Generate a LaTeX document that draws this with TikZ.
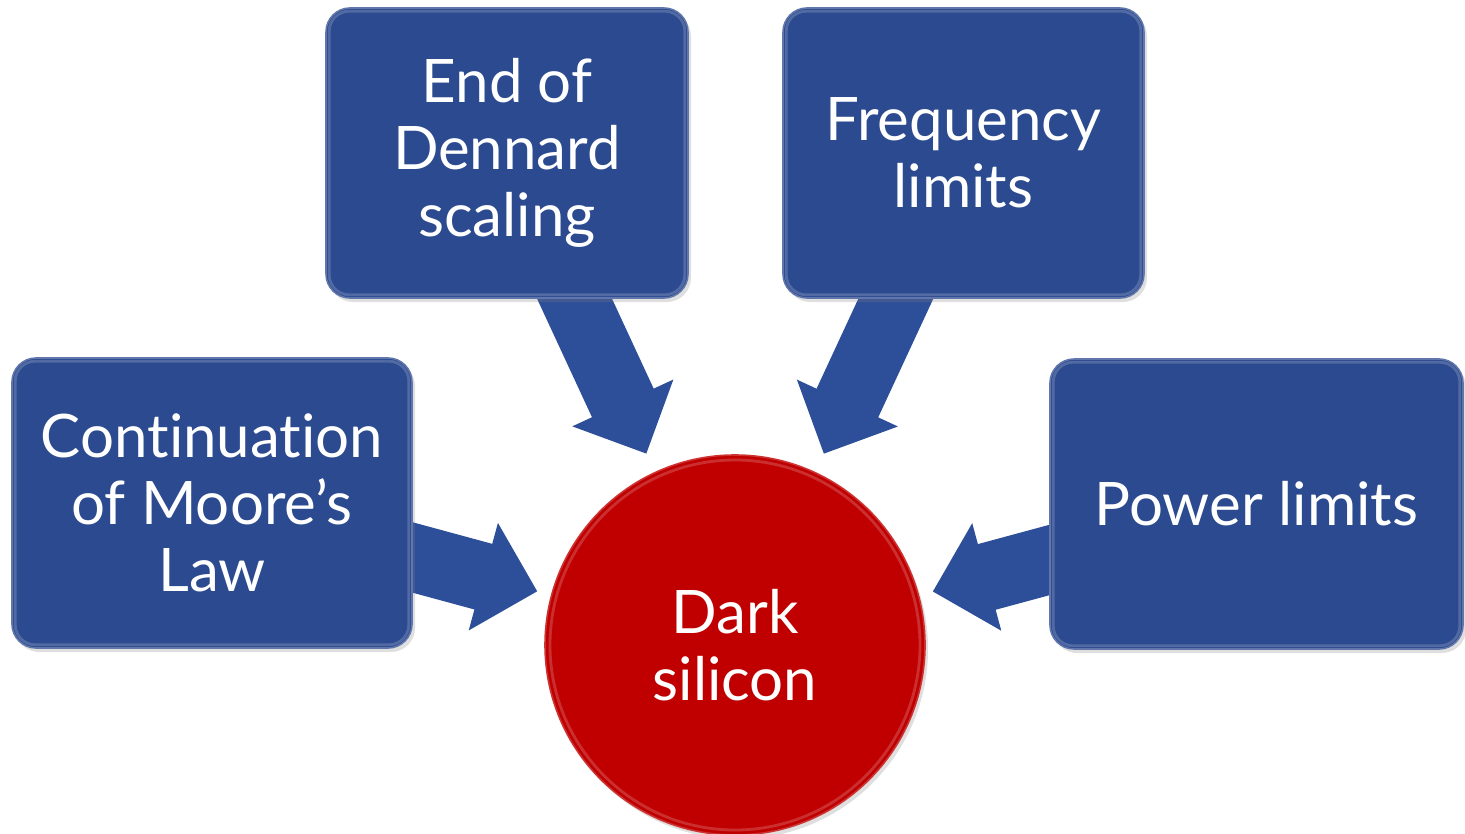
\documentclass[tikz,border=0pt]{standalone}
\usepackage{fontspec}
\setmainfont{Lato}[Ligatures=NoCommon]
\usetikzlibrary{arrows.meta,shadows,calc}
\definecolor{boxblue}{HTML}{2C4A8F}
\definecolor{arrowblue}{HTML}{2D4E98}
\definecolor{darkred}{HTML}{C00000}
\pgfdeclarelayer{bg}
\pgfsetlayers{bg,main}
\begin{document}
\begin{tikzpicture}[x=0.5pt,y=-0.5pt,
  causebox/.style={rectangle, rounded corners=12pt, fill=boxblue,
    draw=boxblue!75!white, line width=0.8pt, text=white,
    font=\fontsize{30}{33.5}\selectfont, align=center, inner sep=0pt,
    minimum height=145pt,
    drop shadow={opacity=0.25, shadow xshift=1.5pt, shadow yshift=-2pt}},
  effectdisc/.style={circle, fill=darkred, draw=darkred!80!white,
    line width=0.8pt, text=white, font=\fontsize{30}{33.5}\selectfont,
    align=center, inner sep=0pt, minimum size=190pt,
    drop shadow={opacity=0.25, shadow xshift=1.5pt, shadow yshift=-2pt}},
  blockarrow/.style={arrowblue, line width=34pt,
    -{Triangle[width=54pt,length=28pt]}},
  gloss/.style={white, opacity=0.18, line width=1.4pt, rounded corners=10pt}
]
\useasboundingbox (0,0) rectangle (1465,834);

% cause boxes
\node[causebox, minimum width=200pt]   (moore)  at (212,503)  {Continuation\\of Moore’s\\Law};
\node[causebox, minimum width=181pt]   (dennard) at (507,153) {End of\\Dennard\\scaling};
\node[causebox, minimum width=180.5pt] (freq)   at (963.5,153) {Frequency\\limits};
\node[causebox, minimum width=206.5pt] (power)  at (1256.5,504) {Power limits};

% effect disc
\node[effectdisc] (dark) at (735,645) {Dark\\silicon};

% inner highlights on the boxes and the disc
\foreach \b in {moore,dennard,freq,power}
  \draw[gloss] ($(\b.north west)+(4,4)$) rectangle ($(\b.south east)+(-4,-4)$);
\draw[white, opacity=0.18, line width=1.4pt] (dark.center) circle[radius=92.5pt];

% block arrows from every cause to the disc
\begin{pgfonlayer}{bg}
  \draw[blockarrow, shorten >=7pt]  (moore.center)   -- (dark);
  \draw[blockarrow, shorten >=10pt] (dennard.center) -- (dark);
  \draw[blockarrow, shorten >=10pt] (freq.center)    -- (dark);
  \draw[blockarrow, shorten >=7pt]  (power.center)   -- (dark);
\end{pgfonlayer}
\end{tikzpicture}
\end{document}
